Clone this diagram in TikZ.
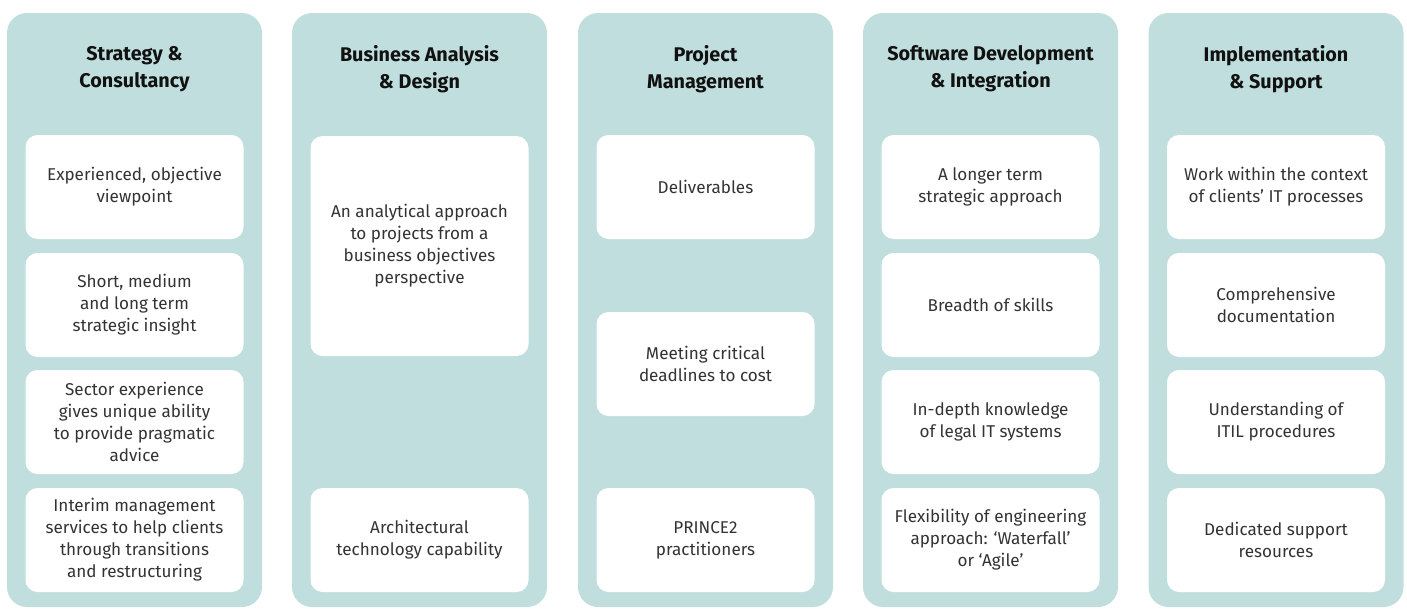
\documentclass[tikz,border=0pt]{standalone}
\usepackage{fontspec}
\setmainfont{Fira Sans}
\definecolor{panelc}{HTML}{C0DEDE}
\definecolor{bodyc}{HTML}{333333}
\definecolor{titlec}{HTML}{111111}
\begin{document}
\begin{tikzpicture}[x=1pt,y=-1pt,
  panel/.style={fill=panelc,draw=none,rounded corners=20pt,minimum width=255pt,minimum height=594pt,inner sep=0pt},
  ttl/.style={align=center,text=titlec,font=\fontsize{19.8}{27}\selectfont\bfseries},
  box/.style={fill=white,draw=none,rounded corners=12pt,minimum width=218pt,minimum height=104pt,inner sep=0pt,align=center,text=bodyc,font=\fontsize{17.1}{22}\selectfont},
  tallbox/.style={box,minimum height=220pt}]
\useasboundingbox (0,0) rectangle (1407,608);
% panels
\node[panel] (p1) at (134.5,310) {};
\node[panel] (p2) at (419.5,310) {};
\node[panel] (p3) at (705.5,310) {};
\node[panel] (p4) at (990.5,310) {};
\node[panel] (p5) at (1276,310) {};
% titles
\node[ttl] (t1) at (134.5,69) {Strategy \&\\Consultancy};
\node[ttl] (t2) at (419.5,69) {Business Analysis\\\& Design};
\node[ttl] (t3) at (705.5,69) {Project\\Management};
\node[ttl] (t4) at (990.5,69) {Software Development\\\& Integration};
\node[ttl] (t5) at (1276,69) {Implementation\\\& Support};
% column 1
\node[box] (a1) at (134.5,187) {Experienced, objective\\viewpoint};
\node[box] (a2) at (134.5,305) {Short, medium\\and long term\\strategic insight};
\node[box] (a3) at (134.5,422) {Sector experience\\gives unique ability\\to provide pragmatic\\advice};
\node[box] (a4) at (134.5,540) {Interim management\\services to help clients\\through transitions\\and restructuring};
% column 2
\node[tallbox] (b1) at (419.5,246) {An analytical approach\\to projects from a\\business objectives\\perspective};
\node[box] (b2) at (419.5,540) {Architectural\\technology capability};
% column 3
\node[box] (c1) at (705.5,187) {Deliverables};
\node[box] (c2) at (705.5,364) {Meeting critical\\deadlines to cost};
\node[box] (c3) at (705.5,540) {PRINCE2\\practitioners};
% column 4
\node[box] (d1) at (990.5,187) {A longer term\\strategic approach};
\node[box] (d2) at (990.5,305) {Breadth of skills};
\node[box] (d3) at (990.5,422) {In-depth knowledge\\of legal IT systems};
\node[box] (d4) at (990.5,540) {Flexibility of engineering\\approach: ‘Waterfall’\\or ‘Agile’};
% column 5
\node[box] (e1) at (1276,187) {Work within the context\\of clients’ IT processes};
\node[box] (e2) at (1276,305) {Comprehensive\\documentation};
\node[box] (e3) at (1276,422) {Understanding of\\ITIL procedures};
\node[box] (e4) at (1276,540) {Dedicated support\\resources};
\end{tikzpicture}
\end{document}
